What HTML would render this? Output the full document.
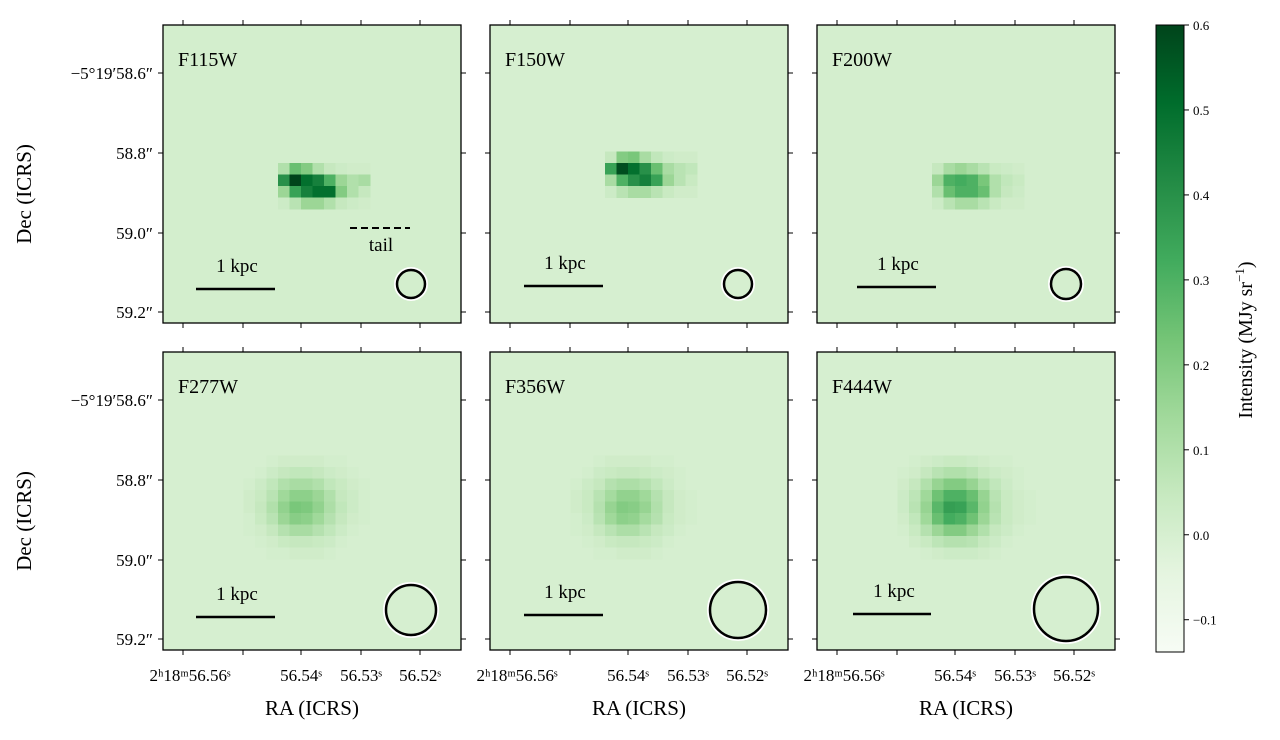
<!DOCTYPE html>
<html><head><meta charset="utf-8"><style>
body{margin:0;background:#fff;width:1280px;height:735px;overflow:hidden}
svg text{font-family:"Liberation Serif",serif;fill:#000}
</style></head><body>
<svg id="fig" width="1280" height="735" xmlns="http://www.w3.org/2000/svg">
<defs>
<linearGradient id="cb" x1="0" y1="1" x2="0" y2="0">
<stop offset="0" stop-color="#f7fcf5"/><stop offset=".125" stop-color="#e5f5e0"/><stop offset=".25" stop-color="#c7e9c0"/><stop offset=".375" stop-color="#a1d99b"/><stop offset=".5" stop-color="#74c476"/><stop offset=".625" stop-color="#41ab5d"/><stop offset=".75" stop-color="#238b45"/><stop offset=".875" stop-color="#006d2c"/><stop offset="1" stop-color="#00441b"/>
</linearGradient>
</defs>
</svg>
<script>
const filters=["F115W","F150W","F200W","F277W","F356W","F444W"];
const bgValues=[0.01,0.0,0.005,0.0,0.0,0.0];
const cbTicks=[0.6,0.5,0.4,0.3,0.2,0.1,0.0,-0.1];
const xTickLabels=["2ʰ18ᵐ56.56ˢ","56.54ˢ","56.53ˢ","56.52ˢ"];
const yTickLabels=["−5°19′58.6″","58.8″","59.0″","59.2″"];
const beamRadii=[14,14,15,25,28,32];
const blobF115=[[0.1,0.25,0.2,0.1,0.05,0.03,0.02,0.02],[0.4,0.6,0.5,0.45,0.3,0.15,0.1,0.12],[0.15,0.35,0.45,0.5,0.5,0.2,0.1,0.05],[0.03,0.08,0.15,0.15,0.1,0.05,0.03,0.02]];
const blobF150=[[0.05,0.2,0.22,0.12,0.06,0.03,0.02,0.02],[0.35,0.58,0.5,0.4,0.25,0.12,0.08,0.06],[0.12,0.3,0.4,0.45,0.35,0.15,0.08,0.04],[0.03,0.08,0.12,0.12,0.08,0.04,0.02,0.02]];
const blobF200=[[0.05,0.12,0.15,0.12,0.08,0.04,0.03,0.02],[0.15,0.3,0.32,0.3,0.22,0.1,0.06,0.04],[0.1,0.25,0.3,0.3,0.25,0.1,0.05,0.03],[0.03,0.08,0.12,0.12,0.08,0.04,0.02,0.02]];
const blobF444=[[0,.01,.02,.03,.04,.04,.03,.02,.01,.01,0,0],[.01,.02,.05,.08,.1,.1,.08,.05,.03,.02,.01,0],[.02,.05,.1,.16,.2,.2,.16,.1,.06,.03,.01,0],[.03,.07,.14,.24,.3,.3,.25,.16,.08,.04,.02,.01],[.03,.08,.16,.28,.36,.35,.28,.17,.09,.04,.02,.01],[.02,.06,.14,.25,.32,.3,.24,.15,.08,.04,.02,.01],[.01,.04,.09,.15,.2,.2,.15,.1,.05,.03,.01,0],[0,.02,.04,.07,.09,.09,.08,.05,.03,.01,0,0],[0,0,.01,.02,.03,.03,.03,.02,.01,0,0,0]];
const blobF277=[[0,0,.01,.02,.02,.02,.02,.01,.01,0,0,0],[0,.01,.03,.05,.06,.06,.05,.03,.02,.01,0,0],[.01,.03,.06,.1,.12,.12,.1,.06,.04,.02,.01,0],[.02,.04,.08,.14,.18,.18,.15,.1,.05,.03,.01,0],[.02,.05,.1,.17,.22,.21,.17,.11,.06,.03,.01,0],[.01,.04,.08,.15,.19,.18,.14,.09,.05,.02,.01,0],[.01,.02,.05,.09,.12,.12,.09,.06,.03,.01,0,0],[0,.01,.02,.04,.05,.05,.04,.03,.01,0,0,0],[0,0,.01,.01,.02,.02,.02,.01,0,0,0,0]];
const blobF356=[[0,0,.01,.02,.02,.02,.02,.01,.01,0,0,0],[0,.01,.03,.04,.05,.05,.04,.03,.02,.01,0,0],[.01,.03,.05,.09,.11,.11,.09,.06,.03,.01,0,0],[.02,.04,.08,.13,.17,.17,.14,.09,.05,.02,.01,0],[.02,.04,.09,.16,.2,.19,.16,.1,.05,.02,.01,0],[.01,.03,.08,.14,.18,.17,.13,.09,.04,.02,.01,0],[.01,.02,.05,.08,.11,.11,.08,.05,.03,.01,0,0],[0,.01,.02,.04,.05,.05,.04,.03,.01,0,0,0],[0,0,.01,.01,.02,.02,.02,.01,0,0,0,0]];
const blobs=[blobF115,blobF150,blobF200,blobF277,blobF356,blobF444];
const blobOrigins=[[10,12],[10,11],[10,12],[7,9],[7,9],[7,9]];

const NS="http://www.w3.org/2000/svg";
const svg=document.getElementById('fig');
const VMIN=-0.138,VMAX=0.6;
const stops=[[0,[247,252,245]],[.125,[229,245,224]],[.25,[199,233,192]],[.375,[161,217,155]],[.5,[116,196,118]],[.625,[65,171,93]],[.75,[35,139,69]],[.875,[0,109,44]],[1,[0,68,27]]];
function cmap(v){let t=Math.max(0,Math.min(1,(v-VMIN)/(VMAX-VMIN)));for(let i=1;i<stops.length;i++){if(t<=stops[i][0]){const a=stops[i-1],b=stops[i];const f=(t-a[0])/(b[0]-a[0]);const c=a[1].map((x,k)=>Math.round(x+(b[1][k]-x)*f));return `rgb(${c})`;}}return 'rgb(0,68,27)';}
function mk(tag,attrs,parent){const e=document.createElementNS(NS,tag);for(const k in attrs)e.setAttribute(k,attrs[k]);(parent||svg).appendChild(e);return e;}
const panelX=[163,490,817],panelY=[25,352],PW=298,PH=298,CELL=11.5;
const xTickPos=[20,80,138,198,257];
const yTickPos=[48,128,208,287];
const cbY=v=>652-(v-VMIN)/(VMAX-VMIN)*(652-25);
filters.forEach((f,i)=>{
  const px=panelX[i%3],py=panelY[Math.floor(i/3)];
  const g=mk('g',{transform:`translate(${px},${py})`});
  
  
  const bg=mk('rect',{x:0,y:0,width:PW,height:PH,fill:cmap(bgValues[i])},g);
  
  
  const [oc,or]=blobOrigins[i];
  blobs[i].forEach((row,r)=>row.forEach((v,c)=>{
    const cell=mk('rect',{x:(oc+c)*CELL,y:(or+r)*CELL,width:CELL+0.5,height:CELL+0.5,fill:cmap(Math.max(v,bgValues[i]))},g);
    
    
  }));
  mk('rect',{x:0,y:0,width:PW,height:PH,fill:'none',stroke:'#000','stroke-width':1.3},g);
  xTickPos.forEach(x=>{mk('line',{x1:x,y1:PH,x2:x,y2:PH+5,stroke:'#000'},g);mk('line',{x1:x,y1:0,x2:x,y2:-5,stroke:'#000'},g);});
  yTickPos.forEach(y=>{mk('line',{x1:0,y1:y,x2:-5,y2:y,stroke:'#000'},g);mk('line',{x1:PW,y1:y,x2:PW+5,y2:y,stroke:'#000'},g);});
  const lbl=mk('text',{x:15,y:41,'font-size':20},g);lbl.textContent=f;
  
  
  const sbY=i<3?[264,261,262][i]:[265,263,262][i-3];
  const sb=mk('line',{x1:[33,34,40,33,34,36][i],y1:sbY,x2:[112,113,119,112,113,114][i],y2:sbY,stroke:'#000','stroke-width':2.5},g);
  
  
  const st=mk('text',{x:[74,75,81,74,75,77][i],y:sbY-17,'font-size':19,'text-anchor':'middle'},g);st.textContent='1 kpc';
  const bx=[248,248,249,248,248,249][i],by=i<3?259:i==5?257:258;
  mk('circle',{cx:bx,cy:by,r:beamRadii[i]+2,fill:'none',stroke:'#fff','stroke-width':2},g);
  const bm=mk('circle',{cx:bx,cy:by,r:beamRadii[i],fill:'none',stroke:'#000','stroke-width':2.5},g);
  
  
  if(i==0){mk('line',{x1:187,y1:203,x2:247,y2:203,stroke:'#000','stroke-width':2,'stroke-dasharray':'7,4'},g);
    const tt=mk('text',{x:218,y:226,'font-size':19,'text-anchor':'middle'},g);tt.textContent='tail';}
  if(i>=3){xTickLabels.forEach((t,k)=>{const tx=mk('text',{x:[27,138,198,257][k],y:PH+31,'font-size':17,'text-anchor':'middle'},g);tx.textContent=t;});
    const xt=mk('text',{x:149,y:PH+65,'font-size':21,'text-anchor':'middle'},g);xt.textContent='RA (ICRS)';
    }
  if(i%3==0){yTickLabels.forEach((t,k)=>{const ty=mk('text',{x:-10,y:yTickPos[k]+6,'font-size':17,'text-anchor':'end'},g);ty.textContent=t;});
    const yt=mk('text',{x:0,y:0,'font-size':21,'text-anchor':'middle',transform:`translate(-132,${PH/2+20}) rotate(-90)`},g);yt.textContent='Dec (ICRS)';
    }
});
const cb=mk('rect',{x:1156,y:25,width:28,height:627,fill:'url(#cb)',stroke:'#000','stroke-width':1});


cbTicks.forEach(v=>{const y=cbY(v);mk('line',{x1:1184,y1:y,x2:1189,y2:y,stroke:'#000'});
  const t=mk('text',{x:1193,y:y+5,'font-size':13});t.textContent=v<0?'−'+Math.abs(v).toFixed(1):v.toFixed(1);
  });
const ct=mk('text',{x:0,y:0,'font-size':20,'text-anchor':'middle',transform:'translate(1252,340) rotate(-90)'});
ct.innerHTML='Intensity (MJy sr<tspan dy="-8" font-size="13">−1</tspan><tspan dy="8">)</tspan>';


</script>
</body></html>
